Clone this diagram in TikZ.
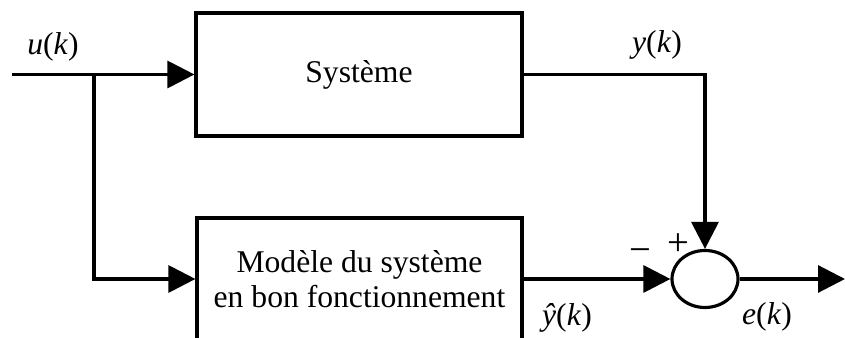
\documentclass[tikz,border=0pt]{standalone}
\usepackage{fontspec}
\setmainfont{Liberation Serif}
\usepackage{tikz}
\usetikzlibrary{arrows.meta,shapes.geometric}

\begin{document}
\begin{tikzpicture}[font=\fontsize{9}{10}\selectfont,
  line width=0.9pt,
  block/.style={draw,rectangle,align=center,inner sep=0pt},
  sign/.style={font=\fontsize{11}{11}\selectfont,inner sep=0pt},
  arr/.style={-{Triangle[length=0.27cm,width=0.27cm]}}]
\useasboundingbox (0,0) rectangle (8.45,3.38);
\node[block,minimum width=3.26cm,minimum height=1.23cm] (sys) at (3.59,2.635) {Système};
\node[block,minimum width=3.25cm,minimum height=1.22cm] (model) at (3.595,0.59) {Modèle du système\\en bon fonctionnement};
\node[draw,ellipse,minimum width=0.66cm,minimum height=0.57cm,inner sep=0pt] (sum) at (7.05,0.59) {};
\coordinate (in) at (0.12,2.635);
\coordinate (branch) at (0.94,2.635);
\coordinate (out) at (8.45,0.59);
\node (ulab) at (0.53,2.91) {\textit{u}(\textit{k})};
\node (ylab) at (6.57,2.93) {\textit{y}(\textit{k})};
\node (yhatlab) at (5.67,0.20) {\textit{ŷ}(\textit{k})};
\node (elab) at (7.67,0.21) {\textit{e}(\textit{k})};
\node[sign] (minus) at (6.40,0.82) {−};
\node[sign] (plus) at (6.78,0.93) {+};
\draw[arr] (in) -- (sys.west);
\draw[arr] (branch) |- (model.west);
\draw[arr] (sys.east) -| (sum.north);
\draw[arr] (model.east) -- (sum.west);
\draw[arr] (sum.east) -- (out);
\end{tikzpicture}
\end{document}
